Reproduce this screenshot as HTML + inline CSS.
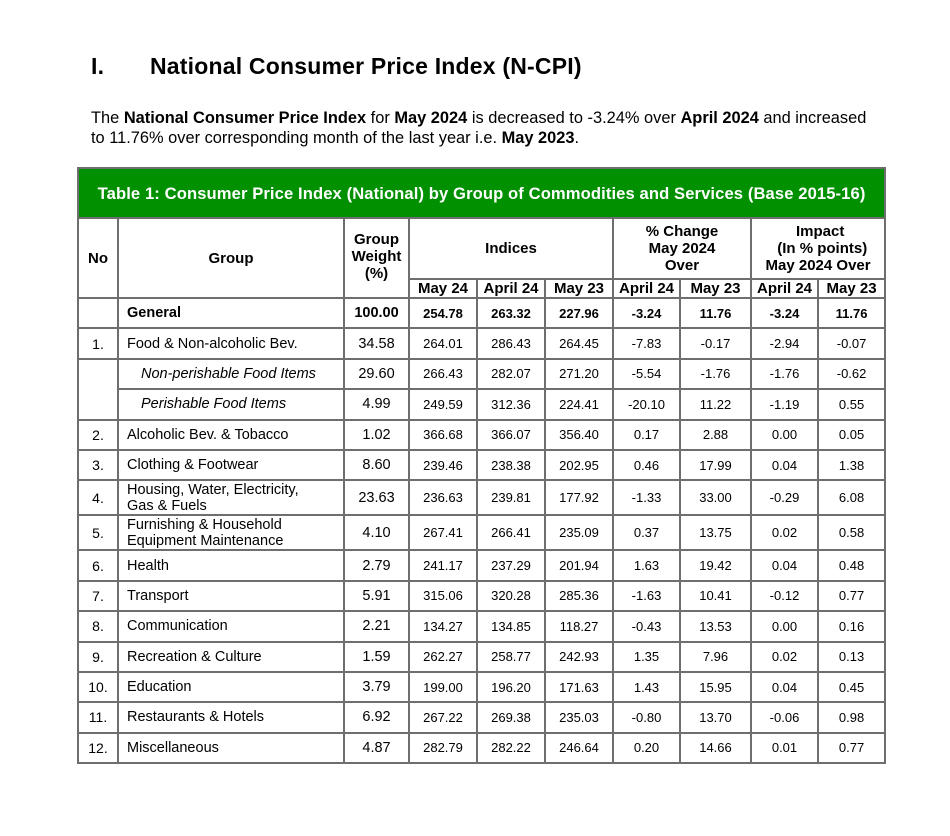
<!DOCTYPE html>
<html><head><meta charset="utf-8">
<style>
body{margin:0;background:#fff;width:950px;height:836px;position:relative;font-family:"Liberation Sans",Arial,sans-serif;color:#000;overflow:hidden}
h1{position:absolute;left:91px;top:53px;margin:0;font-size:23px;font-weight:bold;letter-spacing:0.2px}
h1 span{position:absolute;left:59px;white-space:nowrap}
p.intro{position:absolute;left:91px;top:108px;margin:0;font-size:16.4px;line-height:20px;width:790px}
table{position:absolute;left:77px;top:167px;border-collapse:collapse;table-layout:fixed;width:807px}
td,th{border:2px solid #6e6e6e;padding:0;text-align:center;font-size:14px;overflow:hidden;white-space:nowrap}
th{font-weight:bold;font-size:15px;line-height:17px}
.title{background:#009000;color:#fff;font-size:16.6px;height:48px;border:2px solid #6e6e6e;letter-spacing:0.1px}
.g{text-align:left;padding-left:8px;font-size:14.5px}
.g2{line-height:16px}
.n{font-size:13px}
.w{font-size:14.5px}
.b td{font-weight:bold}
.i{font-style:italic;padding-left:22px}
tr.r td{height:28.4px}
</style></head><body>
<h1>I.<span>National Consumer Price Index (N-CPI)</span></h1>
<p class="intro">The <b>National Consumer Price Index</b> for <b>May 2024</b> is decreased to -3.24% over <b>April 2024</b> and increased to 11.76% over corresponding month of the last year i.e. <b>May 2023</b>.</p>
<table>
<colgroup><col style="width:40px"><col style="width:226px"><col style="width:65px"><col style="width:68px"><col style="width:68px"><col style="width:68px"><col style="width:67px"><col style="width:71px"><col style="width:67px"><col style="width:67px"></colgroup>
<tr><th colspan="10" class="title">Table 1: Consumer Price Index (National) by Group of Commodities and Services (Base 2015-16)</th></tr>
<tr style="height:61px"><th rowspan="2">No</th><th rowspan="2">Group</th><th rowspan="2" style="vertical-align:top;padding-top:12px">Group<br>Weight<br>(%)</th><th colspan="3">Indices</th><th colspan="2">% Change<br>May 2024<br>Over</th><th colspan="2">&nbsp;Impact<br>&nbsp;&nbsp;(In % points)<br>May 2024 Over</th></tr>
<tr style="height:19px"><th>May 24</th><th>April 24</th><th>May 23</th><th>April 24</th><th>May 23</th><th>April 24</th><th>May 23</th></tr>
<tr class="r b"><td></td><td class="g">General</td><td class="w">100.00</td><td class="n">254.78</td><td class="n">263.32</td><td class="n">227.96</td><td class="n">-3.24</td><td class="n">11.76</td><td class="n">-3.24</td><td class="n">11.76</td></tr>
<tr class="r"><td>1.</td><td class="g">Food &amp; Non-alcoholic Bev.</td><td class="w">34.58</td><td class="n">264.01</td><td class="n">286.43</td><td class="n">264.45</td><td class="n">-7.83</td><td class="n">-0.17</td><td class="n">-2.94</td><td class="n">-0.07</td></tr>
<tr class="r"><td rowspan="2"></td><td class="g i">Non-perishable Food Items</td><td class="w">29.60</td><td class="n">266.43</td><td class="n">282.07</td><td class="n">271.20</td><td class="n">-5.54</td><td class="n">-1.76</td><td class="n">-1.76</td><td class="n">-0.62</td></tr>
<tr class="r"><td class="g i">Perishable Food Items</td><td class="w">4.99</td><td class="n">249.59</td><td class="n">312.36</td><td class="n">224.41</td><td class="n">-20.10</td><td class="n">11.22</td><td class="n">-1.19</td><td class="n">0.55</td></tr>
<tr class="r"><td>2.</td><td class="g">Alcoholic Bev. &amp; Tobacco</td><td class="w">1.02</td><td class="n">366.68</td><td class="n">366.07</td><td class="n">356.40</td><td class="n">0.17</td><td class="n">2.88</td><td class="n">0.00</td><td class="n">0.05</td></tr>
<tr class="r"><td>3.</td><td class="g">Clothing &amp; Footwear</td><td class="w">8.60</td><td class="n">239.46</td><td class="n">238.38</td><td class="n">202.95</td><td class="n">0.46</td><td class="n">17.99</td><td class="n">0.04</td><td class="n">1.38</td></tr>
<tr style="height:35px"><td>4.</td><td class="g g2">Housing, Water, Electricity,<br>Gas &amp; Fuels</td><td class="w">23.63</td><td class="n">236.63</td><td class="n">239.81</td><td class="n">177.92</td><td class="n">-1.33</td><td class="n">33.00</td><td class="n">-0.29</td><td class="n">6.08</td></tr>
<tr style="height:35px"><td>5.</td><td class="g g2">Furnishing &amp; Household<br>Equipment Maintenance</td><td class="w">4.10</td><td class="n">267.41</td><td class="n">266.41</td><td class="n">235.09</td><td class="n">0.37</td><td class="n">13.75</td><td class="n">0.02</td><td class="n">0.58</td></tr>
<tr class="r"><td>6.</td><td class="g">Health</td><td class="w">2.79</td><td class="n">241.17</td><td class="n">237.29</td><td class="n">201.94</td><td class="n">1.63</td><td class="n">19.42</td><td class="n">0.04</td><td class="n">0.48</td></tr>
<tr class="r"><td>7.</td><td class="g">Transport</td><td class="w">5.91</td><td class="n">315.06</td><td class="n">320.28</td><td class="n">285.36</td><td class="n">-1.63</td><td class="n">10.41</td><td class="n">-0.12</td><td class="n">0.77</td></tr>
<tr class="r"><td>8.</td><td class="g">Communication</td><td class="w">2.21</td><td class="n">134.27</td><td class="n">134.85</td><td class="n">118.27</td><td class="n">-0.43</td><td class="n">13.53</td><td class="n">0.00</td><td class="n">0.16</td></tr>
<tr class="r"><td>9.</td><td class="g">Recreation &amp; Culture</td><td class="w">1.59</td><td class="n">262.27</td><td class="n">258.77</td><td class="n">242.93</td><td class="n">1.35</td><td class="n">7.96</td><td class="n">0.02</td><td class="n">0.13</td></tr>
<tr class="r"><td>10.</td><td class="g">Education</td><td class="w">3.79</td><td class="n">199.00</td><td class="n">196.20</td><td class="n">171.63</td><td class="n">1.43</td><td class="n">15.95</td><td class="n">0.04</td><td class="n">0.45</td></tr>
<tr class="r"><td>11.</td><td class="g">Restaurants &amp; Hotels</td><td class="w">6.92</td><td class="n">267.22</td><td class="n">269.38</td><td class="n">235.03</td><td class="n">-0.80</td><td class="n">13.70</td><td class="n">-0.06</td><td class="n">0.98</td></tr>
<tr class="r"><td>12.</td><td class="g">Miscellaneous</td><td class="w">4.87</td><td class="n">282.79</td><td class="n">282.22</td><td class="n">246.64</td><td class="n">0.20</td><td class="n">14.66</td><td class="n">0.01</td><td class="n">0.77</td></tr>
</table>
</body></html>
